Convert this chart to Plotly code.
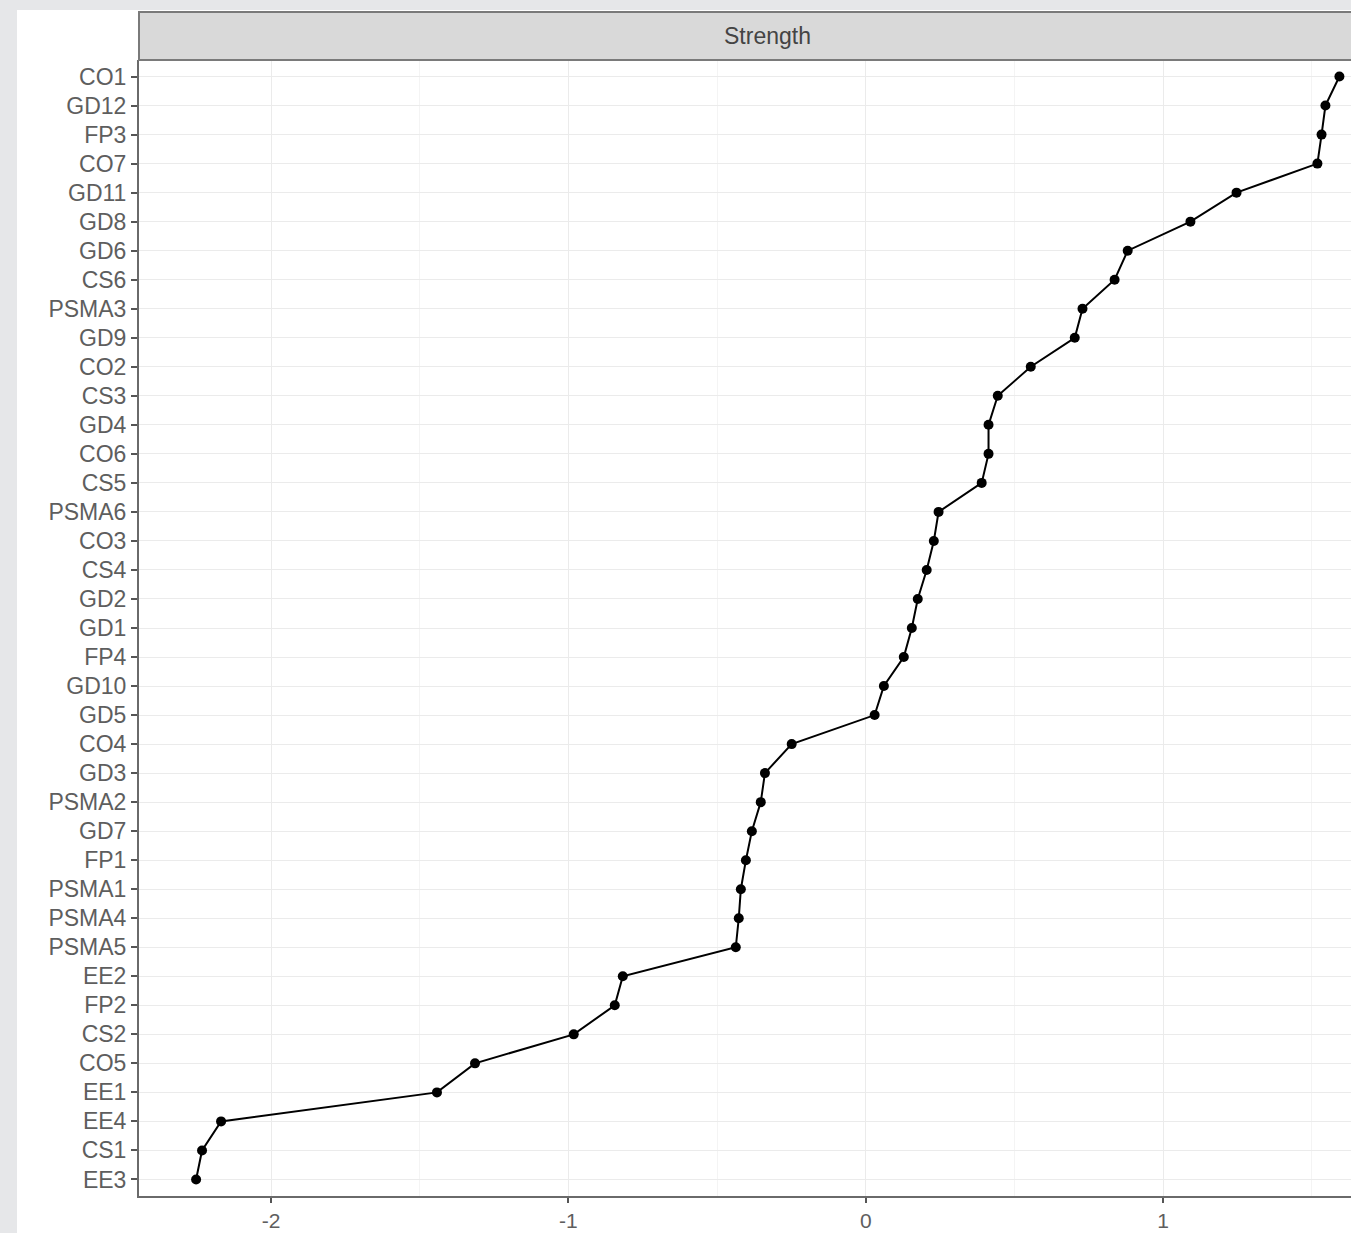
import plotly.graph_objects as go

# Categories listed top to bottom
nodes = ["CO1", "GD12", "FP3", "CO7", "GD11", "GD8", "GD6", "CS6", "PSMA3", "GD9",
         "CO2", "CS3", "GD4", "CO6", "CS5", "PSMA6", "CO3", "CS4", "GD2", "GD1",
         "FP4", "GD10", "GD5", "CO4", "GD3", "PSMA2", "GD7", "FP1", "PSMA1", "PSMA4",
         "PSMA5", "EE2", "FP2", "CS2", "CO5", "EE1", "EE4", "CS1", "EE3"]
strength = [1.593, 1.546, 1.533, 1.519, 1.247, 1.092, 0.881, 0.837, 0.729, 0.703,
            0.555, 0.444, 0.413, 0.413, 0.390, 0.245, 0.229, 0.205, 0.175, 0.155,
            0.128, 0.061, 0.030, -0.249, -0.339, -0.353, -0.383, -0.403, -0.420, -0.427,
            -0.437, -0.817, -0.844, -0.982, -1.314, -1.442, -2.168, -2.232, -2.252]
x_ticks = [-2, -1, 0, 1]
facet_title = "Strength"

W, H = 1351, 1233
L, R, T, B = 139, 0, 60, 37
pw, ph = W - L - R, H - T - B

fig = go.Figure()
fig.add_trace(go.Scatter(
    x=strength, y=nodes, mode="lines+markers",
    line=dict(color="black", width=2),
    marker=dict(color="black", size=10),
    showlegend=False, cliponaxis=False,
))

n = len(nodes)
y_font = dict(family="Liberation Sans, Arial, sans-serif", size=23, color="#5e5e5e")
x_font = dict(family="Liberation Sans, Arial, sans-serif", size=21, color="#5e5e5e")
fig.update_layout(
    width=W, height=H,
    margin=dict(l=L, r=R, t=T, b=B, autoexpand=False),
    paper_bgcolor="#e6e7e9",
    plot_bgcolor="white",
    font=dict(family="Liberation Sans, Arial, sans-serif", size=23, color="#5e5e5e"),
    xaxis=dict(
        range=[-2.444, 1.632], tickvals=x_ticks, ticktext=[str(v) for v in x_ticks],
        showgrid=True, gridcolor="#ebebeb", gridwidth=1,
        minor=dict(dtick=0.5, tick0=0, showgrid=True, gridcolor="#f4f4f4", gridwidth=1),
        showline=True, linecolor="#6a6a6a", linewidth=2,
        ticks="outside", ticklen=5, tickcolor="#555555", tickwidth=2,
        tickfont=x_font, zeroline=False, automargin=False,
    ),
    yaxis=dict(
        type="category", categoryorder="array", categoryarray=nodes,
        range=[n - 1 + 0.57, -0.57],
        showgrid=True, gridcolor="#ebebeb", gridwidth=1,
        showline=True, linecolor="#6a6a6a", linewidth=2,
        ticks="outside", ticklen=6, tickcolor="#555555", tickwidth=2,
        tickfont=y_font, zeroline=False, automargin=False,
    ),
)

# white figure area over gray page background
fig.add_shape(type="rect", xref="paper", yref="paper", layer="below",
              x0=(17 - L) / pw, x1=1.05, y0=-0.1, y1=1 + 50 / ph,
              fillcolor="white", line=dict(width=0))
# facet strip
fig.add_shape(type="rect", xref="paper", yref="paper",
              x0=0, x1=1.01, y0=1, y1=1 + 48 / ph,
              fillcolor="#d9d9d9", line=dict(color="#7a7a7a", width=2))
fig.add_annotation(text=facet_title, xref="paper", yref="paper",
                   x=(767 - L) / pw, y=1 + 24 / ph, xanchor="center", yanchor="middle",
                   showarrow=False, font=dict(size=23, color="#444444"))

fig.write_html(
    "out.html",
    config={"displayModeBar": False},
    post_script="document.body.style.margin='0';document.body.style.background='#e6e7e9';",
)
